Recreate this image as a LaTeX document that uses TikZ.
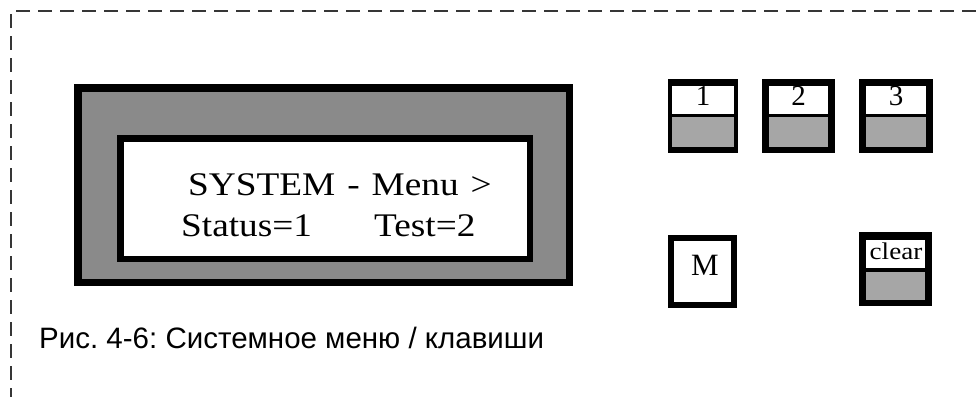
\documentclass[tikz,border=0pt]{standalone}
\usepackage{fontspec}
\setmainfont{Liberation Serif}
\newfontfamily\lcdfont[FakeStretch=1.13]{Liberation Serif}
\newfontfamily\capfont{Liberation Sans}
\usetikzlibrary{calc}
\definecolor{lcdgray}{HTML}{8A8A8A}
\definecolor{keygray}{HTML}{A6A6A6}
\definecolor{dashcol}{HTML}{363636}
\tikzset{
  frameline/.style={draw=dashcol, line width=2pt, dash pattern=on 14pt off 8pt},
  lcdtext/.style={font=\lcdfont\fontsize{33}{38}\selectfont, inner sep=0pt, anchor=base west},
  keytext/.style={font=\fontsize{29}{32}\selectfont, inner sep=0pt, anchor=base},
  keybox/.style={fill=black, inner sep=0pt, minimum width=#1, minimum height=74pt},
  keybox/.default=72pt
}
\begin{document}
\frenchspacing
\begin{tikzpicture}[x=1pt,y=-1pt]
\useasboundingbox (0,0) rectangle (977,397);
% dashed frame
\coordinate (tl) at (10.7,11);
\coordinate (tr) at (977,11);
\coordinate (bl) at (10.7,397);
\draw[frameline, dash phase=16.7pt] (tl) -- (tr);
\draw[frameline, dash phase=19pt] (tl) -- (bl);
% display
\node[draw=black, fill=lcdgray, line width=7.5pt, inner sep=0pt,
      minimum width=491.5pt, minimum height=194.5pt] (lcd) at (323.5,185) {};
\node[draw=black, fill=white, line width=6.5pt, inner sep=0pt,
      minimum width=409.5pt, minimum height=120.5pt] (screen) at (325,198.5) {};
\node[lcdtext] (l1) at (188,195) {SYSTEM\hspace{12pt}-\hspace{12pt}Menu\hspace{12pt}>};
\node[lcdtext] (l2) at (181,236) {Status=1};
\node[lcdtext] (l3) at (374,236) {Test=2};
% keys 1,2,3
\foreach \n/\cx/\w/\s in {1/703/70pt/4.5, 2/798.5/73pt/7, 3/896/74pt/7.5}{
  \node[keybox=\w] (k\n) at (\cx,116) {};
  \fill[white] ($(k\n.north west)+(\s,7)$) rectangle ($(k\n.north east)+(-\s,35)$);
  \fill[keygray] ($(k\n.north west)+(\s,38)$) rectangle ($(k\n.north east)+(-\s,68)$);
  \begin{scope}
    \clip ($(k\n.north west)+(\s,7)$) rectangle ($(k\n.north east)+(-\s,35)$);
    \node[keytext] (t\n) at ($(k\n.north)+(0,27)$) {\n};
  \end{scope}
}
% M key
\node[draw=black, fill=white, line width=6pt, inner sep=0pt,
      minimum width=63pt, minimum height=67pt] (km) at (702.5,271.5) {};
\node[font=\fontsize{31}{34}\selectfont, inner sep=0pt, anchor=base] (tm) at (705,275) {M};
% clear key
\node[keybox=73pt] (kc) at (895.5,269) {};
\fill[white] ($(kc.north west)+(7,8)$) rectangle ($(kc.north east)+(-7,36)$);
\fill[keygray] ($(kc.north west)+(7,40)$) rectangle ($(kc.north east)+(-7,68)$);
\begin{scope}
  \clip ($(kc.north west)+(7,8)$) rectangle ($(kc.north east)+(-7,36)$);
  \node[inner sep=0pt, anchor=base, font=\lcdfont\fontsize{24}{26}\selectfont] (tc) at ($(kc.north)+(0.5,28)$) {clear};
\end{scope}
% caption
\node[font=\capfont\fontsize{29.5}{33}\selectfont, inner sep=0pt, anchor=base west] (cap) at (39,348) {Рис. 4-6: Системное меню / клавиши};
\end{tikzpicture}
\end{document}
